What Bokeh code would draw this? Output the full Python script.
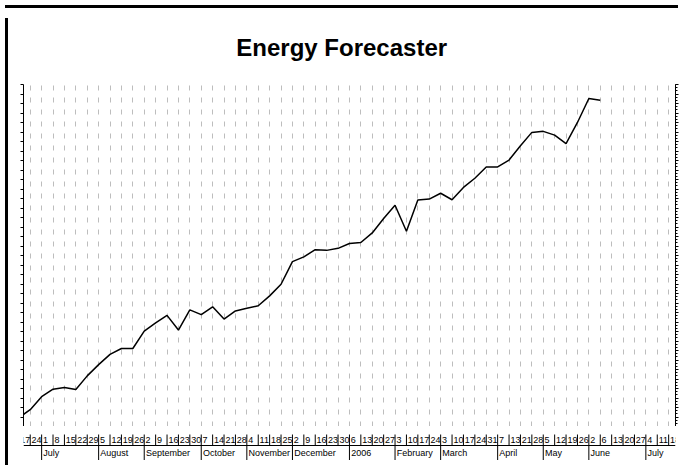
from bokeh.plotting import figure
from bokeh.models import (Range1d, LinearAxis, SingleIntervalTicker, CustomJSTickFormatter,
                          Grid, Span, ColumnDataSource, Div)
from bokeh.layouts import column, row
from bokeh.embed import file_html
from bokeh.resources import INLINE

# ---- data ----
title_text = "Energy Forecaster"
week_labels = ["17", "24", "1", "8", "15", "22", "29", "5", "12", "19", "26", "2", "9", "16",
               "23", "30", "7", "14", "21", "28", "4", "11", "18", "25", "2", "9", "16", "23",
               "30", "6", "13", "20", "27", "3", "10", "17", "24", "3", "10", "17", "24", "31",
               "7", "13", "21", "28", "5", "12", "19", "26", "2", "6", "13", "20", "27", "4",
               "11", "18"]
month_names = ["July", "August", "September", "October", "November", "December", "2006",
               "February", "March", "April", "May", "June", "July"]
energy = [2.6, 4.9, 8.7, 10.9, 11.4, 10.8, 14.8, 18.1, 21.1, 22.8, 22.8, 27.9, 30.3, 32.5,
          28.2, 34.1, 32.7, 35.0, 31.4, 33.8, 34.6, 35.3, 38.2, 41.6, 48.2, 49.6, 51.7, 51.5,
          52.1, 53.5, 53.8, 56.6, 60.8, 64.7, 57.1, 66.2, 66.5, 68.2, 66.3, 69.9, 72.6, 75.9,
          75.9, 77.9, 82.1, 86.0, 86.3, 85.2, 82.7, 88.9, 95.9, 95.4]

# month starts: where the day number drops
month_starts = [k for k in range(1, len(week_labels))
                if int(week_labels[k]) < int(week_labels[k - 1])]

FONT = "Liberation Sans"
W = 670
TITLE_H = 71
x_range = Range1d(0.41, 57.6)


def bare(fig):
    fig.outline_line_color = None
    fig.center = [r for r in fig.center if not isinstance(r, Grid)]
    return fig


# ---- title strip ----
t = bare(figure(width=W, height=TITLE_H, x_range=Range1d(0, W), y_range=Range1d(0, TITLE_H),
                x_axis_location=None, y_axis_location=None,
                output_backend="svg", toolbar_location=None, min_border=0))
t.text(x=[W / 2 - 8], y=[TITLE_H - 34], text=[title_text], text_align="center",
       text_baseline="middle", text_font={"value": FONT}, text_font_style="bold",
       text_font_size="24px", text_color="black")

# ---- main chart ----
p = bare(figure(width=W, height=342, x_range=x_range, y_range=Range1d(0, 100),
                x_axis_location=None, y_axis_location=None,
                output_backend="svg", toolbar_location=None,
                min_border_left=10, min_border_right=8, min_border_top=0, min_border_bottom=0))
p.add_layout(Grid(dimension=0, ticker=SingleIntervalTicker(interval=1, num_minor_ticks=0),
                  grid_line_color="#bdbdbd", grid_line_width=1, grid_line_dash="5 7"))

empty = CustomJSTickFormatter(code="return ''")
left = LinearAxis(ticker=SingleIntervalTicker(interval=100 / 36, num_minor_ticks=0),
                  formatter=empty, major_tick_in=0, major_tick_out=3,
                  axis_line_color="black", major_tick_line_color="black",
                  major_label_text_font_size="1px", major_label_standoff=0)
right = LinearAxis(ticker=SingleIntervalTicker(interval=100 / 36, num_minor_ticks=3),
                   formatter=empty, major_tick_in=0, major_tick_out=3,
                   minor_tick_in=0, minor_tick_out=2,
                   axis_line_color="black", major_tick_line_color="black",
                   minor_tick_line_color="black",
                   major_label_text_font_size="1px", major_label_standoff=0)
p.add_layout(left, "left")
p.add_layout(right, "right")

src = ColumnDataSource(dict(x=list(range(len(energy))), y=energy))
p.line("x", "y", source=src, line_color="black", line_width=1.5)

# ---- two-level date axis strip ----
s = bare(figure(width=W, height=34, x_range=x_range, y_range=Range1d(0, 34),
                x_axis_location=None, y_axis_location=None,
                output_backend="svg", toolbar_location=None,
                min_border_left=10, min_border_right=8, min_border_top=0, min_border_bottom=0))

ks = list(range(len(week_labels)))
day_src = ColumnDataSource(dict(x=ks, xt=[k + 0.12 for k in ks], lab=week_labels,
                                y0=[15] * len(ks), y1=[26] * len(ks), yt=[21] * len(ks)))
s.segment(x0="x", y0="y0", x1="x", y1="y1", source=day_src, line_color="black", line_width=1)
s.text(x="xt", y="yt", text="lab", source=day_src, text_font_size="9px",
       text_baseline="middle", text_align="left", text_color="black",
       text_font={"value": FONT})

s.add_layout(Span(location=15, dimension="width", line_color="black", line_width=1))

mon_src = ColumnDataSource(dict(x=month_starts, xt=[k + 0.15 for k in month_starts],
                                lab=month_names, y0=[15] * len(month_starts),
                                y1=[0] * len(month_starts), yt=[8] * len(month_starts)))
s.segment(x0="x", y0="y0", x1="x", y1="y1", source=mon_src, line_color="black", line_width=1)
s.text(x="xt", y="yt", text="lab", source=mon_src, text_font_size="9px",
       text_baseline="middle", text_align="left", text_color="black",
       text_font={"value": FONT})

top_bar = Div(text="", width=W + 3, height=3, styles={"background-color": "black"})
left_bar = Div(text="", width=3, height=TITLE_H + 342 + 34, styles={"background-color": "black"})
layout = column(top_bar, row(left_bar, column(t, p, s, spacing=0), spacing=0), spacing=0)

open("out.html", "w").write(file_html(layout, INLINE))
